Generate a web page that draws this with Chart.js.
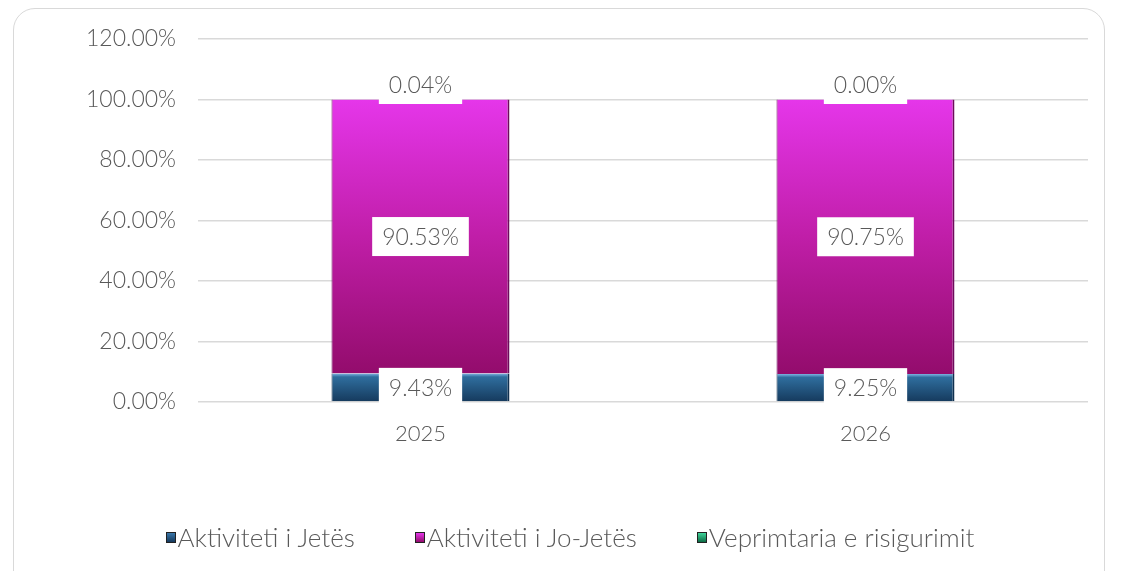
<!DOCTYPE html>
<html>
<head>
<meta charset="utf-8">
<script src="https://cdn.jsdelivr.net/npm/chart.js@4.4.1/dist/chart.umd.min.js"></script>
<style>
  html, body { margin:0; padding:0; background:#fff; }
  #wrap { position:relative; width:1121px; height:571px; overflow:hidden; }
  #frame { position:absolute; left:13px; top:8px; width:1092px; height:600px;
           border:1.5px solid #d9d9d9; border-radius:22px; box-sizing:border-box; }
  canvas { position:absolute; left:0; top:0; }
  #legend { position:absolute; left:0; top:521px; width:1140px; display:flex; justify-content:center;
            font-family:Lato, "Noto Sans", sans-serif; font-weight:300; font-size:26px; color:#595959; }
  #legend .item { display:flex; align-items:center; margin:0 30px; white-space:nowrap; }
  #legend .box { width:10px; height:11px; border:1px solid #222; margin-right:2px; box-sizing:border-box; }
</style>
</head>
<body>
<div id="wrap">
  <div id="frame"></div>
  <canvas id="myChart" width="1121" height="571"></canvas>
  <div id="legend"></div>
</div>
<script>
// categories and shares (%)
var years = ['2025', '2026'];
var seriesNames = ['Aktiviteti i Jetës', 'Aktiviteti i Jo-Jetës', 'Veprimtaria e risigurimit'];
var lifeData = [9.43, 9.25];
var nonLifeData = [90.53, 90.75];
var reinsData = [0.04, 0.00];
var yTicks = [0, 20, 40, 60, 80, 100, 120];

var FONT = 'Lato, "Noto Sans", sans-serif';
var TXT = '#595959';

// vertical gradient for a segment, based on its stack start/end
function segGradient(stops, startArr, lenArr) {
  return function (c) {
    var chart = c.chart;
    var y = chart.scales && chart.scales.y;
    if (!chart.chartArea || !y || c.dataIndex == null) return stops[0][1];
    var s = startArr[c.dataIndex];
    var top = y.getPixelForValue(s + lenArr[c.dataIndex]);
    var bot = y.getPixelForValue(s);
    if (!isFinite(top) || !isFinite(bot) || top === bot) return stops[0][1];
    var g = chart.ctx.createLinearGradient(0, top, 0, bot);
    stops.forEach(function (st) { g.addColorStop(st[0], st[1]); });
    return g;
  };
}

var zeros = years.map(function () { return 0; });
var nonLifeStart = lifeData.slice();
var reinsStart = lifeData.map(function (v, i) { return v + nonLifeData[i]; });

var blueStops = [[0, '#7db4e0'], [0.12, '#2f6e9e'], [1, '#15395c']];
var magStops = [[0, '#e536ea'], [0.5, '#c01ea8'], [1, '#930c6c']];
var greenStops = [[0, '#3fd49a'], [1, '#0d6b45']];

// html legend
var legendFills = [
  'linear-gradient(#3a77aa, #15395c)',
  'linear-gradient(#e536ea, #930c6c)',
  'linear-gradient(#3fd49a, #0d6b45)'
];
var legendEl = document.getElementById('legend');
seriesNames.forEach(function (n, i) {
  var it = document.createElement('div');
  it.className = 'item';
  var b = document.createElement('span');
  b.className = 'box';
  b.style.background = legendFills[i];
  var t = document.createElement('span');
  t.textContent = n;
  it.appendChild(b);
  it.appendChild(t);
  legendEl.appendChild(it);
});

var labelPlugin = {
  id: 'boxLabels',
  afterDatasetsDraw: function (chart) {
    var ctx = chart.ctx;
    ctx.save();
    ctx.font = '300 23px ' + FONT;
    ctx.textAlign = 'center';
    ctx.textBaseline = 'middle';
    chart.data.datasets.forEach(function (ds, di) {
      var meta = chart.getDatasetMeta(di);
      meta.data.forEach(function (el, i) {
        var txt = ds.data[i].toFixed(2) + '%';
        var cy = (el.y + el.base) / 2;
        if (di === 2) cy = Math.min(el.y, el.base) - 15;
        var w = ctx.measureText(txt).width + 20;
        var h = 39;
        ctx.fillStyle = '#ffffff';
        ctx.fillRect(el.x - w / 2, cy - h / 2, w, h);
        ctx.fillStyle = TXT;
        ctx.fillText(txt, el.x, cy + 1);
      });
    });
    ctx.restore();
  }
};

var barCommon = { categoryPercentage: 0.8, barPercentage: 0.5, borderSkipped: false };

new Chart(document.getElementById('myChart'), {
  type: 'bar',
  data: {
    labels: years,
    datasets: [
      Object.assign({ label: seriesNames[0], data: lifeData,
        backgroundColor: segGradient(blueStops, zeros, lifeData),
        borderColor: '#10304f', borderWidth: { left: 1, right: 2, top: 0, bottom: 0 } }, barCommon),
      Object.assign({ label: seriesNames[1], data: nonLifeData,
        backgroundColor: segGradient(magStops, nonLifeStart, nonLifeData),
        borderColor: '#6e0a5c', borderWidth: { left: 1, right: 2, top: 0, bottom: 0 } }, barCommon),
      Object.assign({ label: seriesNames[2], data: reinsData,
        backgroundColor: segGradient(greenStops, reinsStart, reinsData),
        borderColor: '#0d6b45', borderWidth: 0 }, barCommon)
    ]
  },
  options: {
    responsive: false,
    animation: false,
    devicePixelRatio: 1,
    layout: { padding: { top: 39, right: 33, bottom: 129, left: 0 } },
    plugins: {
      tooltip: { enabled: false },
      legend: { display: false }
    },
    scales: {
      x: {
        stacked: true,
        grid: { display: false },
        border: { display: false },
        ticks: { font: { family: FONT, size: 22, weight: '300' }, color: TXT, padding: 11 },
        afterFit: function (s) { s.height = 40; }
      },
      y: {
        stacked: true,
        min: 0,
        max: 120,
        afterBuildTicks: function (s) { s.ticks = yTicks.map(function (v) { return { value: v }; }); },
        grid: { color: '#d9d9d9', lineWidth: 1.5, drawTicks: false },
        border: { display: false },
        ticks: {
          font: { family: FONT, size: 23, weight: '300' },
          color: TXT,
          padding: 22,
          callback: function (v) { return v.toFixed(2) + '%'; }
        },
        afterFit: function (s) { s.width = 198; }
      }
    }
  },
  plugins: [labelPlugin]
});
</script>
</body>
</html>
